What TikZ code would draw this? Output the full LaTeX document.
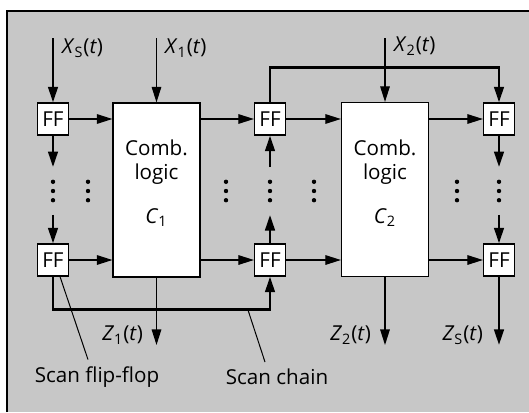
\documentclass[tikz,border=0pt]{standalone}
\usepackage{fontspec}
\setmainfont{Open Sans}
\usetikzlibrary{arrows.meta}

\newcommand{\sig}[2]{\textit{#1}\textsubscript{#2}(\textit{t})}

\begin{document}
\begin{tikzpicture}[x=0.5pt, y=-0.5pt,
  >={Triangle[length=7.8pt, width=4.8pt]},
  every node/.style={font=\fontsize{10.3}{12}\selectfont},
  ff/.style={draw, fill=white, line width=0.6pt, minimum width=15.5pt,
    minimum height=16pt, inner sep=0pt},
  comb/.style={draw, fill=white, line width=0.6pt, minimum width=43.5pt,
    minimum height=87pt},
  vdots/.style={minimum width=4pt, minimum height=23.5pt, inner sep=0pt,
    path picture={\foreach \k in {-1,0,1}
      \fill (path picture bounding box.center) ++(0,\k*4.6pt) circle (1.1pt);}},
  scan/.style={line width=1.3pt},
  wire/.style={line width=0.6pt},
  leader/.style={line width=0.5pt}]

  % --- Fondo y marco ---
  \useasboundingbox (0,0) rectangle (529,412);
  \fill[black!22] (7,11) rectangle (529,412);
  \draw[line width=1pt] (7,412) -- (7,11) -- (529,11);

  % --- Flip-flops ---
  \node[ff] (ff1) at (53,119) {FF};
  \node[ff] (ff2) at (53,260) {FF};
  \node[ff] (ff3) at (270,119) {FF};
  \node[ff] (ff4) at (270,260) {FF};
  \node[ff] (ff5) at (499,119) {FF};
  \node[ff] (ff6) at (499,260) {FF};

  % --- Logica combinacional ---
  \node[comb] (c1) at (156.5,190) {};
  \node[align=center] (c1txt) at (156.5,183)
    {Comb.\\logic\\[10pt]\textit{C}\textsubscript{1}};
  \node[comb] (c2) at (385,189.5) {};
  \node[align=center] (c2txt) at (385,183)
    {Comb.\\logic\\[10pt]\textit{C}\textsubscript{2}};

  % --- Puntos suspensivos ---
  \node[vdots] (v1) at (53,191) {};
  \node[vdots] (v2) at (88,191) {};
  \node[vdots] (v3) at (226,191) {};
  \node[vdots] (v4) at (270,191) {};
  \node[vdots] (v5) at (314,191) {};
  \node[vdots] (v6) at (499,191) {};
  \node[vdots] (v7) at (457,191) {};

  % --- Entradas ---
  \coordinate (xs) at (53,38);
  \coordinate (x1) at (156.5,38);
  \coordinate (x2) at (385,38);
  \draw[scan,->] (xs) -- (ff1);
  \draw[wire,->] (x1) -- (c1);
  \draw[wire,->] (x2) -- (c2);
  \node[right] (xslbl) at (55,48) {\sig{X}{S}};
  \node[right] (x1lbl) at (158,48) {\sig{X}{1}};
  \node[right] (x2lbl) at (387,46) {\sig{X}{2}};

  % --- Conexiones de datos ---
  \draw[wire,->] (ff1) -- (ff1 -| c1.west);
  \draw[wire,->] (ff3 -| c1.east) -- (ff3);
  \draw[wire,->] (ff3) -- (ff3 -| c2.west);
  \draw[wire,->] (ff5 -| c2.east) -- (ff5);
  \draw[wire,->] (ff2) -- (ff2 -| c1.west);
  \draw[wire,->] (ff4 -| c1.east) -- (ff4);
  \draw[wire,->] (ff4) -- (ff4 -| c2.west);
  \draw[wire,->] (ff6 -| c2.east) -- (ff6);

  % --- Cadena de escaneo ---
  \draw[scan,->] (ff1) -- (v1);
  \draw[scan,->] (v1) -- (ff2);
  \draw[scan,->] (ff2.south) -- ++(0,33) -| (ff4.south);
  \draw[scan,->] (ff4) -- (v4);
  \draw[scan,->] (v4) -- (ff3);
  \draw[scan,->] (ff3.north) -- ++(0,-35) -| (ff5.north);
  \draw[scan,->] (ff5) -- (v6);
  \draw[scan,->] (v6) -- (ff6);

  % --- Salidas ---
  \coordinate (z1) at (156.5,345);
  \coordinate (z2) at (385,345);
  \coordinate (zs) at (499,345);
  \draw[wire,->] (c1) -- (z1);
  \draw[wire,->] (c2) -- (z2);
  \draw[scan,->] (ff6) -- (zs);
  \node[left] (z1lbl) at (150,335) {\sig{Z}{1}};
  \node[left] (z2lbl) at (378,335) {\sig{Z}{2}};
  \node[left] (zslbl) at (490,335) {\sig{Z}{S}};

  % --- Etiquetas ---
  \node (sff) at (97,377) {Scan flip-flop};
  \node (sch) at (277,377) {Scan chain};
  \coordinate (chainpt) at (248,310);
  \draw[leader] ([xshift=3.5pt]ff2.south) -- ([xshift=-4.5pt]sff.north);
  \draw[leader] (chainpt) -- ([xshift=-6pt]sch.north);

\end{tikzpicture}
\end{document}
